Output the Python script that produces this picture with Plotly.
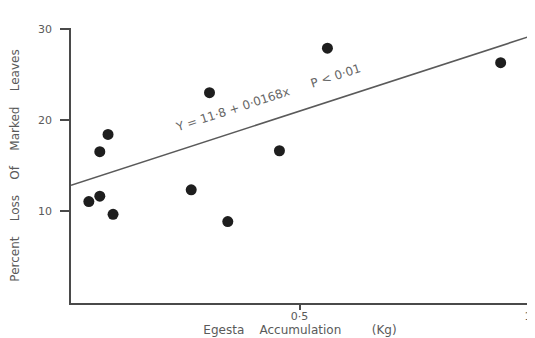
import plotly.graph_objects as go

# Data
egesta_kg = [0.561, 0.940, 0.303, 0.081, 0.063, 0.456, 0.263, 0.063, 0.039, 0.092, 0.343]
percent_loss = [27.9, 26.3, 23.0, 18.4, 16.5, 16.6, 12.3, 11.6, 11.0, 9.6, 8.8]

fit_x = [0.0, 1.01]
fit_y = [12.8, 29.3]

x_tick_vals = [0.5, 1]
x_tick_text = ["0·5", "1"]
y_tick_vals = [10, 20, 30]
y_tick_text = ["10", "20", "30"]

ink = "#4a4a4a"
txt = "#5a5a5a"
nb = "\u00a0"
fam = "DejaVu Sans, Liberation Sans, Arial"

fig = go.Figure()
fig.add_trace(go.Scatter(x=fit_x, y=fit_y, mode="lines",
                         line=dict(color="#5a5a5a", width=1.6),
                         showlegend=False, hoverinfo="skip"))
fig.add_trace(go.Scatter(x=egesta_kg, y=percent_loss, mode="markers",
                         marker=dict(color="#1e1e1e", size=11, symbol="circle"),
                         showlegend=False))

fig.add_annotation(x=0.43, y=22.4, xref="x", yref="y",
                   text="Y = 11·8 + 0·0168x" + nb * 6 + "P < 0·01",
                   textangle=-18, showarrow=False,
                   font=dict(family=fam, size=12, color="#666"))

fig.update_layout(
    width=535, height=338,
    margin=dict(l=63, r=14, t=20, b=43),
    paper_bgcolor="white", plot_bgcolor="white",
    font=dict(family=fam, size=11, color=ink),
    xaxis=dict(range=[0, 1.002], showgrid=False, zeroline=False, automargin=False,
               showline=True, linecolor=ink, linewidth=1.6,
               ticks="outside", ticklen=5, tickcolor=ink, tickwidth=1.5,
               ticklabelstandoff=-3,
               tickvals=x_tick_vals, ticktext=x_tick_text,
               tickfont=dict(size=11, color=txt),
               title=dict(text=nb * 9 + "Egesta" + nb * 4 + "Accumulation" + nb * 8 + "(Kg)",
                          font=dict(size=12, color=txt), standoff=0)),
    yaxis=dict(range=[-0.17, 30.12], showgrid=False, zeroline=False, automargin=False,
               showline=True, linecolor=ink, linewidth=1.6,
               ticks="outside", ticklen=9, tickcolor=ink, tickwidth=1.5,
               ticklabelstandoff=6,
               tickvals=y_tick_vals, ticktext=y_tick_text,
               tickfont=dict(size=11, color=txt),
               title=dict(text="Percent" + nb * 4 + "Loss" + nb * 4 + "Of" + nb * 4 + "Marked" + nb * 4 + "Leaves",
                          font=dict(size=12, color=txt), standoff=18)),
)

fig.write_html("out.html")
